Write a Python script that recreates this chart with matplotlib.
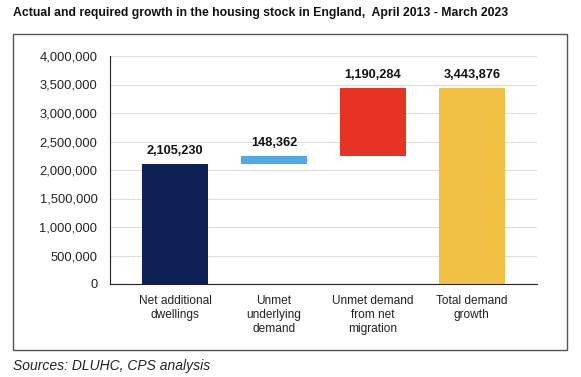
import matplotlib.pyplot as plt
from matplotlib.patches import Rectangle
from matplotlib.ticker import FuncFormatter

categories = ["Net additional\ndwellings", "Unmet\nunderlying\ndemand",
              "Unmet demand\nfrom net\nmigration", "Total demand\ngrowth"]
values = [2105230, 148362, 1190284, 3443876]
bases = [0, 2105230, 2253592, 0]
labels = ["2,105,230", "148,362", "1,190,284", "3,443,876"]
colors = ["#0e2157", "#4ea9e6", "#e63324", "#f2c144"]
yticks = [0, 500000, 1000000, 1500000, 2000000, 2500000, 3000000, 3500000, 4000000]

plt.rcParams['font.family'] = ['Liberation Sans', 'DejaVu Sans']
W, H = 581, 377
fig = plt.figure(figsize=(W/100, H/100), dpi=100)

# outer border
fig.patches.append(Rectangle((13/W, 1-350/H), (567-13)/W, (350-34)/H,
                             transform=fig.transFigure, fill=False,
                             edgecolor="#555555", linewidth=1.0))

ax = fig.add_axes([110/W, 1-284/H, (537-110)/W, (284-56)/H])
x = range(len(categories))
ax.bar(x, values, bottom=bases, width=0.67, color=colors, zorder=3)
for i in x:
    top = bases[i] + values[i]
    ax.text(i, top + 120000, labels[i], ha='center', va='bottom',
            fontsize=9.2, fontweight='bold', color='#111111')

ax.set_xlim(-0.66, 3.66)
ax.set_ylim(0, 4000000)
ax.set_yticks(yticks)
ax.yaxis.set_major_formatter(FuncFormatter(lambda v, p: f"{int(v):,}"))
ax.set_xticks(list(x))
ax.set_xticklabels(categories, fontsize=8.6, linespacing=1.2, va='top')
ax.tick_params(axis='both', length=0, colors='#222222')
ax.tick_params(axis='y', labelsize=9.3, pad=9)
ax.tick_params(axis='x', pad=8)
ax.grid(axis='y', color='#dddddd', linewidth=0.8, zorder=0)
for s in ['top', 'right']:
    ax.spines[s].set_visible(False)
ax.spines['left'].set_color('#222222')
ax.spines['bottom'].set_color('#222222')
ax.spines['left'].set_linewidth(0.8)
ax.spines['bottom'].set_linewidth(0.8)

fig.text(13/W, 1-13/H, "Actual and required growth in the housing stock in England,  April 2013 - March 2023",
         fontsize=8.8, fontweight='bold', ha='left', va='center', color='#111111')
fig.text(13/W, 1-366/H, "Sources: DLUHC, CPS analysis", fontsize=10, style='italic',
         ha='left', va='center', color='#222222')

fig.savefig("out.png", dpi=100)
